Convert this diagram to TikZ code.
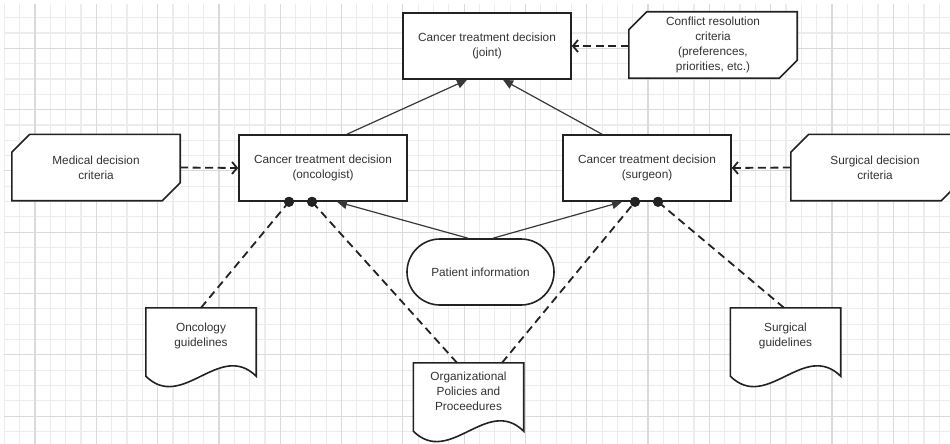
\documentclass[tikz,border=0pt]{standalone}
\usepackage{fontspec}
\setmainfont{Liberation Sans}
\usetikzlibrary{arrows.meta}
\definecolor{ink}{HTML}{222222}
\definecolor{txt}{HTML}{333333}
\definecolor{gridminor}{HTML}{ECECEC}
\definecolor{gridmajor}{HTML}{DADADA}
\pgfdeclarelayer{background}
\pgfsetlayers{background,main}

\begin{document}
\begin{tikzpicture}[x=1pt,y=-1pt,
  every node/.style={font=\fontsize{11.8}{15}\selectfont, text=txt, align=center, inner sep=0pt},
  block/.style={minimum width=168pt, minimum height=66pt},
  outline/.style={draw=ink, line width=1.6pt, fill=white, line join=miter},
  docnode/.style={minimum width=110pt, minimum height=56pt},
  link/.style={draw=ink!90, line width=1.2pt, -{Triangle[length=10pt,width=9pt]}},
  feed/.style={draw=ink, line width=1.8pt, dash pattern=on 8pt off 4.5pt, -{Straight Barb[length=5pt,width=12pt]}},
  tie/.style={draw=ink, line width=1.8pt, dash pattern=on 8pt off 5pt},
  dot/.style={circle, fill=ink, minimum size=10pt, inner sep=0pt}
]
\useasboundingbox (0,0) rectangle (950,444);

% squared paper background
\begin{pgfonlayer}{background}
  \fill[white] (0,0) rectangle (950,444);
  \begin{scope}
    \clip (4,4) rectangle (950,444);
    \foreach \k in {0,...,62}
      \draw[gridminor, line width=1.2pt] ({4.35+15.327*\k},4) -- ({4.35+15.327*\k},444);
    \foreach \k in {0,...,29}
      \draw[gridminor, line width=1.2pt] (4,{2.3+15.327*\k}) -- (950,{2.3+15.327*\k});
    \foreach \k in {2,6,...,62}
      \draw[gridmajor, line width=1.2pt] ({4.35+15.327*\k},4) -- ({4.35+15.327*\k},444);
    \foreach \k in {3,7,...,27}
      \draw[gridmajor, line width=1.2pt] (4,{2.3+15.327*\k}) -- (950,{2.3+15.327*\k});
  \end{scope}
\end{pgfonlayer}

% decision boxes
\node[block, outline] (joint) at (487,46) {Cancer treatment decision\\(joint)};
\node[block, outline] (onc) at (323,168) {Cancer treatment decision\\(oncologist)};
\node[block, outline] (surg) at (647,168) {Cancer treatment decision\\(surgeon)};

% criteria (chamfered boxes)
\node[block] (conflict) at (713,45) {Conflict resolution\\criteria\\(preferences,\\priorities, etc.)};
\node[block] (med) at (96,167.5) {Medical decision\\criteria};
\node[block] (scrit) at (875,167.5) {Surgical decision\\criteria};

% patient information terminator
\node[outline, rounded corners=33pt, minimum width=147pt, minimum height=66pt] (patient) at (480.5,272) {Patient information};

% guideline documents
\node[docnode] (odoc) at (201,336) {Oncology\\guidelines};
\node[docnode] (orgdoc) at (468.5,391) {Organizational\\Policies and\\Proceedures};
\node[docnode] (sdoc) at (785.5,336) {Surgical\\guidelines};

\begin{pgfonlayer}{background}
  \foreach \n in {conflict,med,scrit}
    \draw[outline] ([yshift=-18pt]\n.north west) -- ([xshift=18pt]\n.north west)
      -- (\n.north east) -- ([yshift=18pt]\n.south east)
      -- ([xshift=-18pt]\n.south east) -- (\n.south west) -- cycle;
  \foreach \n in {odoc,orgdoc,sdoc}
    \draw[outline] (\n.north west) -- (\n.north east) -- ([yshift=-12pt]\n.south east)
      .. controls ([xshift=-36.7pt,yshift=24pt]\n.south east)
      and ([xshift=36.7pt,yshift=-48pt]\n.south west) .. ([yshift=-12pt]\n.south west)
      -- cycle;
\end{pgfonlayer}

% attachment dots on the decision boxes
\node[dot] (o1) at ([xshift=-34pt]onc.south) {};
\node[dot] (o2) at ([xshift=-11pt]onc.south) {};
\node[dot] (s1) at ([xshift=-12pt]surg.south) {};
\node[dot] (s2) at ([xshift=11pt]surg.south) {};

% criteria feeding the decisions
\draw[feed] (med.east) -- (onc.west);
\draw[feed] (scrit.west) -- (surg.east);
\draw[feed] ([yshift=-1pt]conflict.west) -- ([yshift=-1pt]conflict.west -| joint.east);

% decisions to the joint decision
\draw[link] ([xshift=24pt]onc.north) -- ([xshift=-20pt]joint.south);
\draw[link] ([xshift=-45pt]surg.north) -- ([xshift=16pt]joint.south);

% patient information to both decisions
\draw[link] ([xshift=-12.5pt]patient.north) -- ([xshift=14pt]onc.south);
\draw[link] ([xshift=12.5pt]patient.north) -- ([xshift=-25pt]surg.south);

% guideline documents tied to the decisions
\draw[tie] (odoc.north) -- (o1.center);
\draw[tie] ([xshift=-11.5pt]orgdoc.north) -- (o2.center);
\draw[tie] ([xshift=33.5pt]orgdoc.north) -- (s1.center);
\draw[tie] ([xshift=-1.5pt]sdoc.north) -- (s2.center);

% redraw dots over the line ends
\fill[ink] (o1) circle (5pt) (o2) circle (5pt) (s1) circle (5pt) (s2) circle (5pt);
\end{tikzpicture}
\end{document}
